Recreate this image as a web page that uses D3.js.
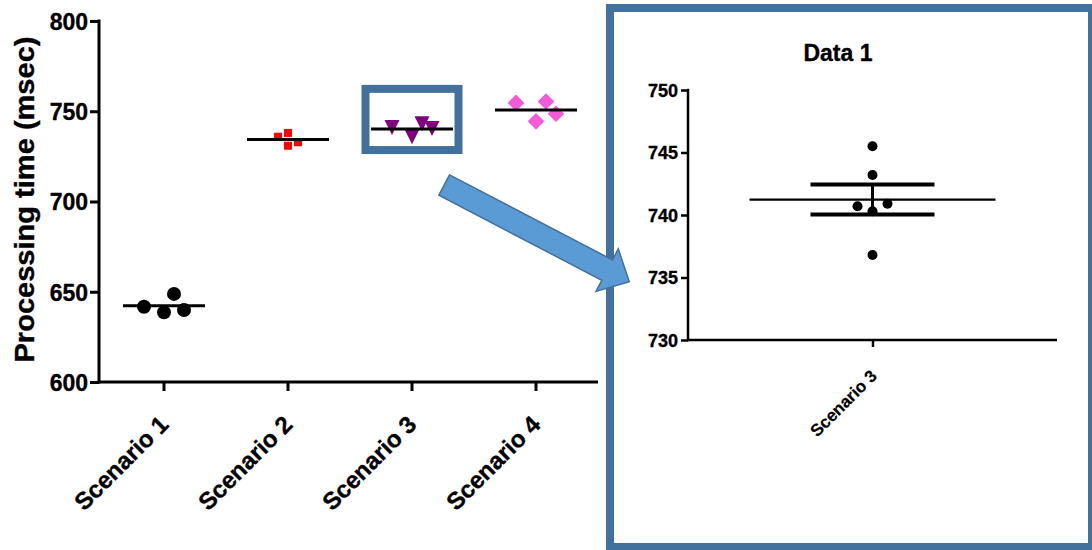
<!DOCTYPE html>
<html><head><meta charset="utf-8">
<script src="https://cdn.jsdelivr.net/npm/d3@7"></script>
<style>
body{margin:0;background:#fff}
svg{display:block}
text{font-family:Arial,"Liberation Sans",sans-serif;font-weight:bold;fill:#000;stroke:#000;stroke-width:0.35px}
</style>
</head><body>
<svg id="chart" width="1092" height="550"></svg>
<script>
// ---------- data ----------
const scenarios = ["Scenario 1", "Scenario 2", "Scenario 3", "Scenario 4"];
const scenario1 = [641.7, 638.6, 648.8, 639.9];
const scenario2 = [735.9, 738.0, 730.9, 732.8];
const scenario3 = [741.0, 735.9, 743.1, 740.5];
const scenario4 = [754.6, 744.4, 755.4, 748.6];
// column-scatter slot of each point (Prism style spreading of overlapping points)
const slots1 = [-2, 0, 1, 2];
const slots2 = [-1, 0, 0, 1];
const slots3 = [-2, 0, 1, 2];
const slots4 = [-2, 0, 1, 2];
const mainTicks = [600, 650, 700, 750, 800];

const zoomCategory = ["Scenario 3"];
const data1 = [745.5, 743.2, 740.7, 740.3, 740.9, 736.8];
const data1Slots = [0, 0, -1, 0, 1, 0];
const zoomTicks = [730, 735, 740, 745, 750];

// ---------- setup ----------
const svg = d3.select("#chart");
const BLUE_LINE = "#41719C", BLUE_FILL = "#5B9BD5";

const triDown = { draw(ctx, size) { const w = Math.sqrt(size); ctx.moveTo(-w/2, -w/2); ctx.lineTo(w/2, -w/2); ctx.lineTo(0, w/2); ctx.closePath(); } };
const series = [
  { vals: scenario1, slots: slots1, color: "#000000", sym: d3.symbolCircle, size: Math.PI * 49, rot: 0 },
  { vals: scenario2, slots: slots2, color: "#FF0000", sym: d3.symbolSquare, size: 64, rot: 0 },
  { vals: scenario3, slots: slots3, color: "#800080", sym: triDown, size: 225, rot: 0 },
  { vals: scenario4, slots: slots4, color: "#F55AD9", sym: d3.symbolSquare, size: 139, rot: 45 }
];

// ---------- left chart ----------
const y = d3.scaleLinear().domain([600, 800]).range([382, 21]);
const x = d3.scaleBand().domain(scenarios).range([102, 598]);
const axisX0 = 99;

const gl = svg.append("g");
// y axis
const yAx = gl.append("g").attr("transform", `translate(${axisX0},0)`)
  .call(d3.axisLeft(y).tickValues(mainTicks).tickSize(9).tickPadding(2).tickFormat(d3.format("d")));
yAx.select(".domain").remove();
yAx.selectAll("line").attr("stroke", "#000").attr("stroke-width", 3);
yAx.selectAll("text").style("font-size", "23px").attr("dy", "0.36em");
gl.append("line").attr("x1", axisX0).attr("x2", axisX0).attr("y1", y(800) - 1.5).attr("y2", y(600) + 1.5)
  .attr("stroke", "#000").attr("stroke-width", 3);
// x axis
const xAx = gl.append("g").attr("transform", `translate(0,${y(600)})`)
  .call(d3.axisBottom(x).tickSize(9).tickSizeOuter(0));
xAx.select(".domain").remove();
xAx.selectAll("line").attr("stroke", "#000").attr("stroke-width", 3);
xAx.selectAll("text").style("font-size", "24px").attr("x", 0).attr("y", 0).attr("dy", 0)
  .attr("text-anchor", "end").attr("transform", "translate(6,44) rotate(-45)");
gl.append("line").attr("x1", axisX0).attr("x2", x.range()[1]).attr("y1", y(600)).attr("y2", y(600))
  .attr("stroke", "#000").attr("stroke-width", 3);
// y title
gl.append("text").attr("transform", `translate(25,${(y(800) + y(600)) / 2 - 2}) rotate(-90)`)
  .attr("text-anchor", "middle").attr("dominant-baseline", "central")
  .attr("textLength", 326).attr("lengthAdjust", "spacingAndGlyphs")
  .style("font-size", "27px").text("Processing time (msec)");

// points
const slotStep = 10;
series.forEach((s, i) => {
  const cx = x(scenarios[i]) + x.bandwidth() / 2;
  gl.append("g").selectAll("path").data(s.vals).join("path")
    .attr("d", d3.symbol().type(s.sym).size(s.size))
    .attr("transform", (v, j) => `translate(${cx + s.slots[j] * slotStep},${y(v)}) rotate(${s.rot})`)
    .attr("fill", s.color);
  const m = d3.mean(s.vals);
  gl.append("line").attr("x1", cx - 41).attr("x2", cx + 41).attr("y1", y(m)).attr("y2", y(m))
    .attr("stroke", "#000").attr("stroke-width", 3);
});

// highlight box around Scenario 3
const hlTop = 762.4, hlBottom = 728.5;
const hlCx = x("Scenario 3") + x.bandwidth() / 2;
gl.append("rect").attr("x", hlCx - 46.5).attr("y", y(hlTop)).attr("width", 93).attr("height", y(hlBottom) - y(hlTop))
  .attr("fill", "none").attr("stroke", BLUE_LINE).attr("stroke-width", 8);

// ---------- right zoom panel ----------
const gr = svg.append("g");
gr.append("rect").attr("x", 610).attr("y", 8).attr("width", 482).attr("height", 539)
  .attr("fill", "#fff").attr("stroke", BLUE_LINE).attr("stroke-width", 8);

const y2 = d3.scaleLinear().domain([730, 750]).range([340, 90]);
const x2 = d3.scalePoint().domain(zoomCategory).range([688, 1057]).padding(0.5);
const ax2X = 688;

const y2Ax = gr.append("g").attr("transform", `translate(${ax2X},0)`)
  .call(d3.axisLeft(y2).tickValues(zoomTicks).tickSize(7).tickPadding(3).tickFormat(d3.format("d")));
y2Ax.select(".domain").remove();
y2Ax.selectAll("line").attr("stroke", "#000").attr("stroke-width", 2.5);
y2Ax.selectAll("text").style("font-size", "18px").attr("dy", "0.36em");
gr.append("line").attr("x1", ax2X).attr("x2", ax2X).attr("y1", y2(750) - 1.2).attr("y2", y2(730) + 1.2)
  .attr("stroke", "#000").attr("stroke-width", 2.5);

const x2Ax = gr.append("g").attr("transform", `translate(0,${y2(730)})`)
  .call(d3.axisBottom(x2).tickSize(7).tickSizeOuter(0));
x2Ax.select(".domain").remove();
x2Ax.selectAll("line").attr("stroke", "#000").attr("stroke-width", 2.5);
x2Ax.selectAll("text").style("font-size", "17px").style("stroke-width", "0.2px").attr("x", 0).attr("y", 0).attr("dy", 0)
  .attr("text-anchor", "end").attr("transform", "translate(5,37) rotate(-45)");
gr.append("line").attr("x1", ax2X).attr("x2", 1057).attr("y1", y2(730)).attr("y2", y2(730))
  .attr("stroke", "#000").attr("stroke-width", 2.5);

gr.append("text").attr("x", 838).attr("y", 61).attr("text-anchor", "middle")
  .style("font-size", "23px").text("Data 1");

const cx2 = x2("Scenario 3");
const mean1 = d3.mean(data1);
const sem1 = d3.deviation(data1) / Math.sqrt(data1.length);
gr.append("line").attr("x1", cx2 - 123).attr("x2", cx2 + 123).attr("y1", y2(mean1)).attr("y2", y2(mean1))
  .attr("stroke", "#000").attr("stroke-width", 2.3);
gr.append("line").attr("x1", cx2).attr("x2", cx2).attr("y1", y2(mean1 + sem1)).attr("y2", y2(mean1 - sem1))
  .attr("stroke", "#000").attr("stroke-width", 3);
[mean1 + sem1, mean1 - sem1].forEach(v => {
  gr.append("line").attr("x1", cx2 - 62).attr("x2", cx2 + 62).attr("y1", y2(v)).attr("y2", y2(v))
    .attr("stroke", "#000").attr("stroke-width", 4);
});
gr.append("g").selectAll("circle").data(data1).join("circle")
  .attr("cx", (v, j) => cx2 + data1Slots[j] * 15).attr("cy", v => y2(v)).attr("r", 5).attr("fill", "#000");

// ---------- arrow ----------
const tail = [444.2, 185], tip = [629.3, 281.7];
const shaftW = 23, headW = 48, headL = 25;
const ang = Math.atan2(tip[1] - tail[1], tip[0] - tail[0]);
const len = Math.hypot(tip[0] - tail[0], tip[1] - tail[1]);
const local = [[0, -shaftW/2], [len - headL, -shaftW/2], [len - headL, -headW/2], [len, 0],
               [len - headL, headW/2], [len - headL, shaftW/2], [0, shaftW/2]];
const pts = local.map(([u, w]) => [tail[0] + u * Math.cos(ang) - w * Math.sin(ang), tail[1] + u * Math.sin(ang) + w * Math.cos(ang)]);
svg.append("path").attr("d", d3.line()(pts) + "Z")
  .attr("fill", BLUE_FILL).attr("stroke", BLUE_LINE).attr("stroke-width", 1.5).attr("stroke-linejoin", "miter");
</script>
</body></html>
